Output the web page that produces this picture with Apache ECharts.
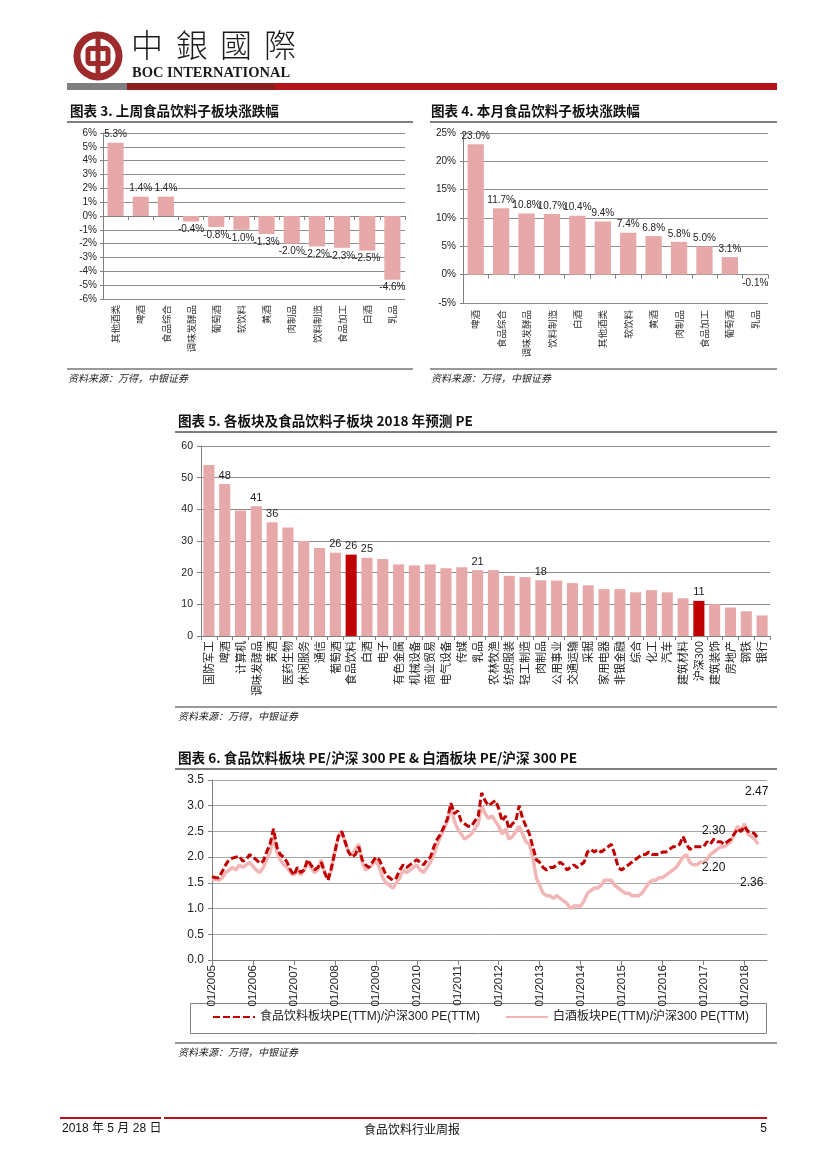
<!DOCTYPE html>
<html>
<head>
<meta charset="utf-8">
<script src="https://cdn.jsdelivr.net/npm/echarts@6/dist/echarts.min.js"></script>
<style>
html,body{margin:0;padding:0;background:#fff;}
#page{width:827px;height:1169px;}
</style>
</head>
<body>
<div id="page"></div>
<script>
// ---------- DATA ----------
const c3Cats = ['其他酒类','啤酒','食品综合','调味发酵品','葡萄酒','软饮料','黄酒','肉制品','饮料制造','食品加工','白酒','乳品'];
const c3Vals = [5.3,1.4,1.4,-0.4,-0.8,-1.0,-1.3,-2.0,-2.2,-2.3,-2.5,-4.6];

const c4Cats = ['啤酒','食品综合','调味发酵品','饮料制造','白酒','其他酒类','软饮料','黄酒','肉制品','食品加工','葡萄酒','乳品'];
const c4Vals = [23.0,11.7,10.8,10.7,10.4,9.4,7.4,6.8,5.8,5.0,3.1,-0.1];

const c5Cats = ['国防军工','啤酒','计算机','调味发酵品','黄酒','医药生物','休闲服务','通信','葡萄酒','食品饮料','白酒','电子','有色金属','机械设备','商业贸易','电气设备','传媒','乳品','农林牧渔','纺织服装','轻工制造','肉制品','公用事业','交通运输','采掘','家用电器','非银金融','综合','化工','汽车','建筑材料','沪深300','建筑装饰','房地产','钢铁','银行'];
const c5Vals = [54.0,48.0,39.6,41.0,35.9,34.3,30.0,27.8,26.3,25.7,24.7,24.3,22.6,22.3,22.6,21.4,21.7,20.8,20.8,19.0,18.6,17.6,17.5,16.7,16.0,14.8,14.8,13.8,14.5,13.8,11.9,11.1,10.1,9.0,7.8,6.5];
const c5Highlight = ['食品饮料','沪深300'];
const c5Labeled = ['啤酒','调味发酵品','黄酒','葡萄酒','食品饮料','白酒','乳品','肉制品','沪深300'];

// monthly categories 2005-01 .. 2018-05
const c6Months = [];
for (let y = 2005; y <= 2018; y++) {
  for (let m = 1; m <= 12; m++) {
    if (y === 2018 && m > 5) break;
    c6Months.push(y + '-' + String(m).padStart(2, '0'));
  }
}
const c6RedName = '食品饮料板块PE(TTM)/沪深300 PE(TTM)';
const c6PinkName = '白酒板块PE(TTM)/沪深300 PE(TTM)';
const c6Red = [
  1.62,1.60,1.60,1.72,1.85,1.95,1.98,2.00,2.02,1.92,1.95,2.05,
  2.00,1.95,1.88,1.92,2.10,2.25,2.55,2.20,2.05,2.00,1.90,1.75,
  1.65,1.80,1.70,1.75,1.95,1.85,1.75,1.80,1.90,1.70,1.55,1.80,
  2.10,2.40,2.50,2.30,2.10,2.00,2.05,2.20,1.95,1.85,1.80,1.90,
  2.00,1.95,1.80,1.65,1.60,1.55,1.60,1.75,1.85,1.80,1.85,1.90,
  1.95,1.90,1.85,1.95,2.00,2.20,2.35,2.45,2.60,2.75,3.05,2.85,
  2.90,2.70,2.65,2.60,2.60,2.70,2.80,3.25,3.10,3.00,3.05,3.10,
  2.95,2.70,2.80,2.55,2.65,2.70,3.00,2.75,2.60,2.45,2.20,1.95,
  1.90,1.80,1.75,1.80,1.80,1.85,1.90,1.85,1.75,1.80,1.85,1.80,
  1.85,1.90,2.10,2.15,2.10,2.15,2.10,2.15,2.20,2.25,2.05,1.80,
  1.75,1.80,1.85,1.90,1.95,2.00,2.05,2.05,2.10,2.05,2.05,2.05,
  2.10,2.10,2.15,2.20,2.20,2.25,2.40,2.25,2.15,2.20,2.20,2.20,
  2.20,2.30,2.25,2.35,2.30,2.30,2.25,2.30,2.35,2.45,2.55,2.50,
  2.60,2.50,2.50,2.45,2.36
];
const c6Pink = [
  1.55,1.58,1.55,1.60,1.70,1.75,1.80,1.75,1.85,1.80,1.85,1.90,
  1.82,1.75,1.70,1.80,1.95,2.10,2.40,2.10,1.95,1.85,1.80,1.70,
  1.65,1.75,1.65,1.75,1.90,1.80,1.70,1.75,1.95,1.70,1.60,1.75,
  2.10,2.40,2.50,2.30,2.10,2.05,2.15,2.25,1.90,1.75,1.80,1.85,
  1.95,1.80,1.60,1.50,1.45,1.40,1.50,1.60,1.75,1.70,1.75,1.80,
  1.85,1.75,1.70,1.80,1.90,2.05,2.25,2.40,2.55,2.70,3.00,2.70,
  2.55,2.45,2.35,2.40,2.45,2.55,2.65,3.00,2.85,2.75,2.80,2.70,
  2.60,2.45,2.55,2.35,2.40,2.50,2.60,2.45,2.30,2.25,2.00,1.60,
  1.45,1.30,1.25,1.25,1.20,1.25,1.20,1.15,1.10,1.00,1.05,1.05,
  1.05,1.15,1.30,1.35,1.40,1.40,1.45,1.55,1.55,1.55,1.45,1.40,
  1.35,1.30,1.30,1.25,1.25,1.25,1.30,1.40,1.50,1.55,1.55,1.60,
  1.60,1.65,1.70,1.75,1.80,1.90,2.00,2.05,1.90,1.85,1.85,1.90,
  1.90,1.95,2.05,2.10,2.15,2.20,2.20,2.25,2.30,2.45,2.60,2.50,
  2.65,2.45,2.40,2.35,2.25
];
const c6XMin = 2005, c6XMax = 2018.55;
const c6Notes = [
  {series:'red',  month:'2017-04', text:'2.30'},
  {series:'pink', month:'2017-04', text:'2.20'},
  {series:'red',  month:'2018-04', text:'2.47'},
  {series:'pink', month:'2018-04', text:'2.36'}
];
const sourceText = '资料来源：万得，中银证券';

// ---------- HELPERS ----------
const SANS = "'Liberation Sans Narrow','Arial Narrow','Liberation Sans',Arial,'Noto Sans CJK SC',sans-serif";
const CJK = "'Noto Sans CJK SC','Liberation Sans',sans-serif";
const PINK = '#E6A8A8', RED = '#C00000';
const monthX = s => { const [y, m] = s.split('-').map(Number); return y + (m - 1) / 12; };
const redPts = c6Months.map((d, i) => [monthX(d), c6Red[i]]);
const pinkPts = c6Months.map((d, i) => [monthX(d), c6Pink[i]]);
const noteOffsets = [[0,-8],[0,16],[2,-42],[-3,44]];
function notesFor(which) {
  const out = [];
  c6Notes.forEach((n, k) => {
    if (n.series !== which) return;
    const i = c6Months.indexOf(n.month);
    const v = which === 'red' ? c6Red[i] : c6Pink[i];
    out.push({coord:[monthX(n.month), v], label:{formatter:n.text, offset:noteOffsets[k]}});
  });
  return out;
}

const gridLine = c => ({show:true, lineStyle:{color:c, width:1}});
const axLine = {show:true, lineStyle:{color:'#808080', width:1}};
const axTick = (len) => ({show:true, length:len, lineStyle:{color:'#808080'}});

function text(t, x, y, font, opt) {
  return {type:'text', silent:true, style:Object.assign({text:t, x:x, y:y, font:font, fill:'#111', textAlign:'left', textVerticalAlign:'middle'}, opt || {})};
}
function line(x1, y1, x2, y2, color, w) {
  return {type:'line', silent:true, shape:{x1:x1, y1:y1, x2:x2, y2:y2}, style:{stroke:color, lineWidth:w}};
}
function rect(x, y, w, h, fill) {
  return {type:'rect', silent:true, shape:{x:x, y:y, width:w, height:h}, style:{fill:fill}};
}
const titleFont = "bold 13.6px " + CJK;
const srcFont = "italic 10px " + CJK;
const LOGO = '#9E2A2B';

const graphics = [
  // logo
  {type:'circle', silent:true, shape:{cx:98, cy:56, r:21}, style:{fill:'none', stroke:LOGO, lineWidth:7}},
  {type:'rect', silent:true, shape:{x:88, y:48.5, width:20, height:15, r:2}, style:{fill:'none', stroke:LOGO, lineWidth:5}},
  rect(95.5, 34, 5, 44, LOGO),
  text('中', 131, 45, "300 32px 'Noto Sans CJK TC'", {fill:'#1a1a1a'}),
  text('銀', 176, 45, "300 32px 'Noto Sans CJK TC'", {fill:'#1a1a1a'}),
  text('國', 220, 45, "300 32px 'Noto Sans CJK TC'", {fill:'#1a1a1a'}),
  text('際', 264, 45, "300 32px 'Noto Sans CJK TC'", {fill:'#1a1a1a'}),
  text('BOC INTERNATIONAL', 132, 73, "bold 14.5px 'Liberation Serif','DejaVu Serif',serif", {fill:'#1a1a1a'}),
  rect(67, 83, 60, 7, '#7f7f7f'),
  rect(127, 83, 148, 7, '#8C1D1F'),
  rect(275, 83, 502, 7, '#B5121B'),
  // chart 3 / 4 titles and rules
  text('图表 3. 上周食品饮料子板块涨跌幅', 70, 111, titleFont),
  line(67, 122, 413, 122, '#7f7f7f', 2),
  text('图表 4. 本月食品饮料子板块涨跌幅', 431, 111, titleFont),
  line(430, 122, 777, 122, '#7f7f7f', 2),
  line(67, 369, 413, 369, '#333', 1),
  text(sourceText, 68, 378, srcFont, {fill:'#222'}),
  line(430, 369, 777, 369, '#333', 1),
  text(sourceText, 431, 378, srcFont, {fill:'#222'}),
  // chart 5
  text('图表 5. 各板块及食品饮料子板块 2018 年预测 PE', 178, 421, titleFont),
  line(175, 432, 777, 432, '#7f7f7f', 2),
  line(175, 707, 777, 707, '#333', 1),
  text(sourceText, 178, 716, srcFont, {fill:'#222'}),
  // chart 6
  text('图表 6. 食品饮料板块 PE/沪深 300 PE & 白酒板块 PE/沪深 300 PE', 178, 758, titleFont),
  line(175, 769, 777, 769, '#7f7f7f', 2),
  {type:'rect', silent:true, shape:{x:190.5, y:1003.5, width:576, height:30}, style:{fill:'none', stroke:'#808080', lineWidth:1}},
  line(175, 1043, 777, 1043, '#333', 1),
  text(sourceText, 178, 1052, srcFont, {fill:'#222'}),
  // footer
  line(60, 1118, 161, 1118, '#B5121B', 2),
  line(164, 1118, 767, 1118, '#B5121B', 2),
  text('2018 年 5 月 28 日', 62, 1129, "12px 'Liberation Sans Narrow','Liberation Sans','Noto Sans CJK SC'", {fill:'#111'}),
  text('食品饮料行业周报', 412, 1129, "12px 'Noto Sans CJK SC'", {fill:'#111', textAlign:'center'}),
  text('5', 767, 1129, "12px 'Liberation Sans'", {fill:'#111', textAlign:'right'})
];

const pctLabel = (p) => p.value.toFixed(1) + '%';
const legendBase = {itemWidth:42, itemHeight:10, itemGap:0, padding:0, top:1011,
  itemStyle:{opacity:0}, textStyle:{fontSize:12, color:'#222', fontFamily:SANS}};

const option = {
  animation: false,
  textStyle: {fontFamily: SANS},
  grid: [
    {left:103, top:133, width:302, height:166},
    {left:463, top:133, width:305, height:170},
    {left:201, top:446, width:569, height:190},
    {left:212, top:780, width:555, height:180}
  ],
  xAxis: [
    {type:'category', gridIndex:0, data:c3Cats, axisLine:axLine, axisTick:axTick(4),
     axisLabel:{interval:0, rotate:90, margin:6, fontSize:9.5, color:'#333', fontFamily:CJK}},
    {type:'category', gridIndex:1, data:c4Cats, axisLine:axLine, axisTick:axTick(4),
     axisLabel:{interval:0, rotate:90, margin:7, fontSize:9.5, color:'#333', fontFamily:CJK}},
    {type:'category', gridIndex:2, data:c5Cats, axisLine:axLine, axisTick:axTick(4),
     axisLabel:{interval:0, rotate:90, margin:5, fontSize:11, color:'#222', fontFamily:CJK}},
    {type:'value', gridIndex:3, min:c6XMin, max:c6XMax, interval:1, splitLine:{show:false},
     axisLine:{show:true, onZero:false, lineStyle:{color:'#808080'}}, axisTick:axTick(5),
     axisLabel:{rotate:90, margin:5, fontSize:11.5, color:'#222', showMaxLabel:false,
       formatter: v => Number.isInteger(v) ? '01/' + v : ''}}
  ],
  yAxis: [
    {type:'value', gridIndex:0, min:-6, max:6, interval:1, axisLine:axLine, axisTick:axTick(3),
     splitLine:gridLine('#8c8c8c'), axisLabel:{formatter:'{value}%', fontSize:10, color:'#222', margin:6}},
    {type:'value', gridIndex:1, min:-5, max:25, interval:5, axisLine:axLine, axisTick:axTick(3),
     splitLine:gridLine('#8c8c8c'), axisLabel:{formatter:'{value}%', fontSize:10, color:'#222', margin:7}},
    {type:'value', gridIndex:2, min:0, max:60, interval:10, axisLine:axLine, axisTick:axTick(4),
     splitLine:gridLine('#8c8c8c'), axisLabel:{fontSize:10.5, color:'#222', margin:8}},
    {type:'value', gridIndex:3, min:0, max:3.5, interval:0.5, axisLine:axLine, axisTick:axTick(4),
     splitLine:gridLine('#a6a6a6'), axisLabel:{fontSize:12, color:'#222', margin:8, formatter: v => v.toFixed(1)}}
  ],
  legend: [
    Object.assign({data:[c6RedName], left:212}, legendBase),
    Object.assign({data:[c6PinkName], left:505}, legendBase)
  ],
  series: [
    {type:'bar', xAxisIndex:0, yAxisIndex:0, barWidth:'64%',
     data: c3Vals.map(v => ({value:v, label:{position: v < 0 ? 'bottom' : 'top'}})),
     itemStyle:{color:PINK},
     label:{show:true, formatter:pctLabel, fontSize:10, color:'#222', distance:3}},
    {type:'bar', xAxisIndex:1, yAxisIndex:1, barWidth:'64%',
     data: c4Vals.map(v => ({value:v, label:{position: v < 0 ? 'bottom' : 'top'}})),
     itemStyle:{color:PINK},
     label:{show:true, formatter:pctLabel, fontSize:10, color:'#222', distance:3}},
    {type:'bar', xAxisIndex:2, yAxisIndex:2, barWidth:'70%',
     data: c5Vals.map((v, i) => ({
       value:v,
       itemStyle:{color: c5Highlight.includes(c5Cats[i]) ? RED : PINK},
       label:{show: c5Labeled.includes(c5Cats[i])}
     })),
     label:{show:false, position:'top', fontSize:11, color:'#222', distance:3, formatter: p => Math.round(p.value)}},
    {type:'line', name:c6PinkName, xAxisIndex:3, yAxisIndex:3, data:pinkPts, symbol:'none', showSymbol:false,
     lineStyle:{color:'#F2B6B6', width:3.5}, itemStyle:{color:'#F2B6B6'},
     markPoint:{symbol:'circle', symbolSize:1, itemStyle:{color:'rgba(0,0,0,0)'},
       label:{show:true, position:'inside', color:'#111', fontSize:12}, data:notesFor('pink')}},
    {type:'line', name:c6RedName, xAxisIndex:3, yAxisIndex:3, data:redPts, symbol:'none', showSymbol:false,
     lineStyle:{color:RED, width:3, type:[7,3]}, itemStyle:{color:RED},
     markPoint:{symbol:'circle', symbolSize:1, itemStyle:{color:'rgba(0,0,0,0)'},
       label:{show:true, position:'inside', color:'#111', fontSize:12}, data:notesFor('red')}}
  ],
  graphic: {elements: graphics}
};

const chart = echarts.init(document.getElementById('page'), null, {renderer:'canvas'});
chart.setOption(option);
</script>
</body>
</html>
